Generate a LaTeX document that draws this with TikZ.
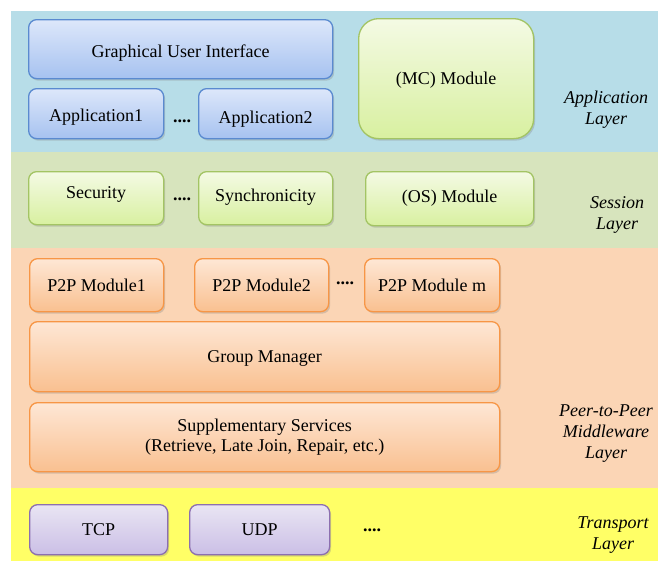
\documentclass[tikz,border=0pt]{standalone}
\usepackage{fontspec}
\setmainfont{Liberation Serif}
\newfontfamily\tnr{Liberation Serif}
\usetikzlibrary{shadows}
\definecolor{appbg}{HTML}{B7DDE8}
\definecolor{sessbg}{HTML}{D7E4BD}
\definecolor{p2pbg}{HTML}{FBD5B5}
\definecolor{trbg}{HTML}{FFFF66}
\definecolor{bluetop}{HTML}{DDE7FA}
\definecolor{bluebot}{HTML}{A6C2F0}
\definecolor{bluebd}{HTML}{5A8AD0}
\definecolor{greentop}{HTML}{F4FAE4}
\definecolor{greenbot}{HTML}{D8F0A0}
\definecolor{greenbd}{HTML}{A3C464}
\definecolor{orangetop}{HTML}{FEE7D5}
\definecolor{orangebot}{HTML}{F9C090}
\definecolor{orangebd}{HTML}{F79646}
\definecolor{purpletop}{HTML}{E9E5F3}
\definecolor{purplebot}{HTML}{CBBFE6}
\definecolor{purplebd}{HTML}{8C6FB0}
\begin{document}
\begin{tikzpicture}[x=1pt,y=-1pt,
  box/.style={draw, rounded corners=8pt, line width=1.3pt, align=center,
    font=\tnr\fontsize{18}{20}\selectfont, inner sep=0pt, anchor=north west,
    drop shadow={opacity=0.3, shadow xshift=1.5pt, shadow yshift=-2pt}},
  oneline/.style={text height=14pt, text depth=2.2pt},
  blueline/.style={text height=17pt, text depth=1pt},
  sessline/.style={text height=12.5pt, text depth=5.5pt},
  bluebox/.style={box, draw=bluebd, top color=bluetop, bottom color=bluebot},
  greenbox/.style={box, draw=greenbd, top color=greentop, bottom color=greenbot},
  orangebox/.style={box, draw=orangebd, top color=orangetop, bottom color=orangebot},
  purplebox/.style={box, draw=purplebd, top color=purpletop, bottom color=purplebot},
  layerlabel/.style={font=\tnr\fontsize{18}{21}\selectfont\itshape, align=center},
  dotsep/.style={font=\tnr\fontsize{18}{20}\selectfont\bfseries, inner sep=0pt}]
\useasboundingbox (0,0) rectangle (663,562);
% layer bands
\fill[appbg] (11,11) rectangle (658,152);
\fill[sessbg] (11,152) rectangle (658,248);
\fill[p2pbg] (11,248) rectangle (658,488);
\fill[trbg] (11,488) rectangle (658,561);
% application layer
\node[bluebox, blueline, minimum width=304pt, minimum height=59pt] (gui) at (28,19) {Graphical User Interface};
\node[bluebox, blueline, minimum width=135pt, minimum height=50pt] (app1) at (28,88) {Application1};
\node[bluebox, blueline, minimum width=134pt, minimum height=50pt] (app2) at (198,88) {\raisebox{-1.5pt}{Application2}};
\node[dotsep] (d1) at (182,121) {....};
\node[greenbox, oneline, rounded corners=20pt, minimum width=175pt, minimum height=120pt] (mc) at (358,18) {(MC) Module};
\node[layerlabel] (lapp) at (606,110) {Application\\Layer};
% session layer
\node[greenbox, sessline, minimum width=135pt, minimum height=53pt] (sec) at (28,171) {\raisebox{3pt}{Security}};
\node[greenbox, sessline, minimum width=134pt, minimum height=53pt] (sync) at (198,171) {Synchronicity};
\node[dotsep] (d2) at (182,199) {....};
\node[greenbox, sessline, minimum width=168pt, minimum height=54pt] (os) at (365,171) {(OS) Module};
\node[layerlabel] (lsess) at (617,215) {Session\\Layer};
% p2p layer
\node[orangebox, oneline, minimum width=134pt, minimum height=53pt] (p1) at (29,258) {P2P Module1};
\node[orangebox, oneline, minimum width=134pt, minimum height=53pt] (p2) at (194,258) {P2P Module2};
\node[dotsep] (d3) at (345,283) {....};
\node[orangebox, oneline, minimum width=135pt, minimum height=53pt] (pm) at (364,258) {P2P Module m};
\node[orangebox, oneline, minimum width=470pt, minimum height=70pt] (gm) at (29,321) {Group Manager};
\node[orangebox, minimum width=470pt, minimum height=69pt] (ss) at (29,402) {Supplementary Services\\(Retrieve, Late Join, Repair, etc.)};
\node[layerlabel] (lp2p) at (606,433.5) {Peer-to-Peer\\Middleware\\Layer};
% transport layer
\node[purplebox, oneline, minimum width=138pt, minimum height=50pt] (tcp) at (29,504) {TCP};
\node[purplebox, oneline, minimum width=140pt, minimum height=50pt] (udp) at (189,504) {UDP};
\node[dotsep] (d4) at (372,530) {....};
\node[layerlabel] (ltr) at (613,535) {Transport\\Layer};
\end{tikzpicture}
\end{document}
